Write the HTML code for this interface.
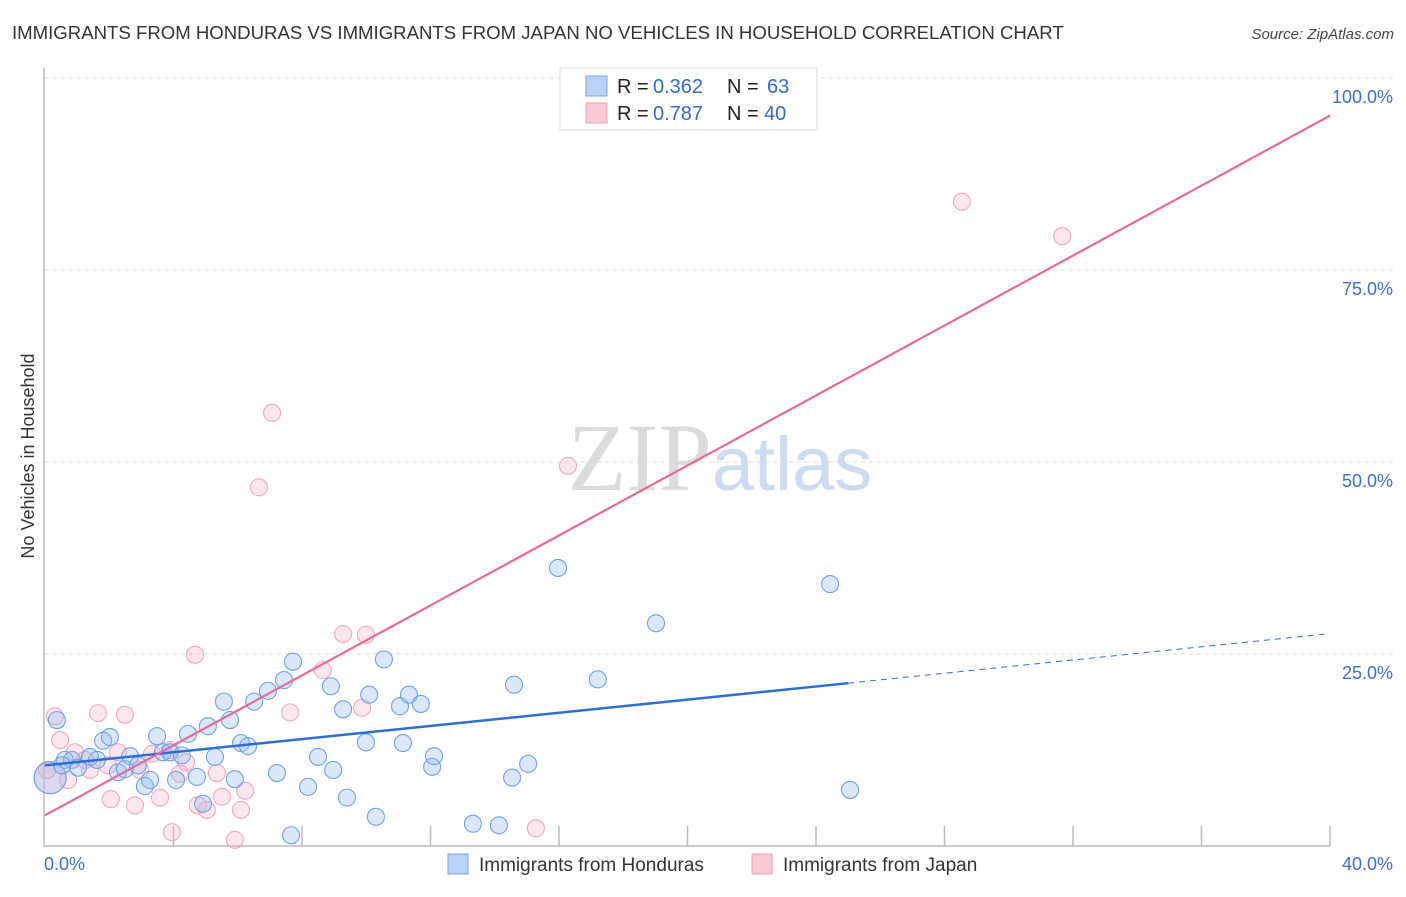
<!DOCTYPE html>
<html><head><meta charset="utf-8"><style>
body{margin:0;background:#fff;font-family:"Liberation Sans",sans-serif}
</style></head><body>
<svg id="chart" width="1406" height="892" xmlns="http://www.w3.org/2000/svg" font-family="Liberation Sans, sans-serif">
<text x="12" y="39" font-size="18.6" fill="#333">IMMIGRANTS FROM HONDURAS VS IMMIGRANTS FROM JAPAN NO VEHICLES IN HOUSEHOLD CORRELATION CHART</text>
<text x="1394" y="39" font-size="15" fill="#444" font-style="italic" text-anchor="end">Source: ZipAtlas.com</text>
<text x="720" y="490" font-size="96" text-anchor="middle"><tspan fill="#dcdcdc" font-family="Liberation Serif, serif">ZIP</tspan><tspan fill="#cddcf2" font-size="76">atlas</tspan></text>
<g id="grid"></g>
<g id="axes"></g>
<g id="marks"></g>
<text transform="translate(34,456) rotate(-90)" font-size="18" fill="#333" text-anchor="middle">No Vehicles in Household</text>
<g>
<rect x="560" y="68" width="257" height="62" fill="#fff" stroke="#ddd"/>
<rect x="586" y="76" width="21" height="20" fill="#b9d3f7" stroke="#7aa6e4"/>
<rect x="586" y="103" width="21" height="20" fill="#fbc8d6" stroke="#eea0b6"/>
<text x="617" y="93" font-size="20" fill="#222">R =</text>
<text x="653" y="93" font-size="20" fill="#3568d4">0.362</text>
<text x="727" y="93" font-size="20" fill="#222">N =</text>
<text x="767" y="93" font-size="20" fill="#3568d4">63</text>
<text x="617" y="120" font-size="20" fill="#222">R =</text>
<text x="653" y="120" font-size="20" fill="#3568d4">0.787</text>
<text x="727" y="120" font-size="20" fill="#222">N =</text>
<text x="764" y="120" font-size="20" fill="#3568d4">40</text>
</g>
<g>
<rect x="448" y="854" width="20" height="20" fill="#b9d3f7" stroke="#7aa6e4"/>
<text x="479" y="871" font-size="19" fill="#333">Immigrants from Honduras</text>
<rect x="752" y="854" width="20" height="20" fill="#fbc8d6" stroke="#eea0b6"/>
<text x="783" y="871" font-size="19" fill="#333">Immigrants from Japan</text>
</g>
</svg>
<script>
const blueX=[0.37,0.62,0.84,1.03,1.40,1.62,1.81,2.02,2.27,2.49,2.65,2.89,3.11,3.27,3.49,3.67,3.89,4.08,4.26,4.45,4.73,4.92,5.07,5.29,5.57,5.76,5.91,6.10,6.32,6.51,6.94,7.22,7.44,7.66,7.72,8.19,8.50,8.90,8.97,9.28,9.40,9.99,10.09,10.30,10.55,11.05,11.14,11.33,11.70,12.05,12.11,13.32,14.13,14.54,14.60,15.04,15.97,17.21,19.02,24.44,25.06,0.16,0.53];
const blueY=[16.4,11.2,11.2,10.2,11.6,11.2,13.7,14.2,9.6,10.0,11.7,10.5,7.8,8.6,14.3,12.2,12.2,8.6,11.8,14.6,9.0,5.5,15.6,11.6,18.8,16.4,8.7,13.4,13.0,18.8,20.2,9.5,21.6,1.4,24.0,7.7,11.6,20.8,9.9,17.8,6.3,13.5,19.7,3.8,24.3,18.2,13.4,19.7,18.5,10.3,11.7,2.9,2.7,8.9,21.0,10.7,36.2,21.7,29.0,34.1,7.3,8.9,10.5];
const pinkX=[0.16,0.31,0.72,0.93,1.40,1.65,2.05,2.27,2.49,2.80,2.96,3.33,3.58,3.95,4.20,4.39,4.67,4.76,5.04,5.35,5.51,5.91,6.10,6.23,6.66,7.07,7.63,8.65,9.28,9.87,9.99,15.28,16.28,28.54,31.66,0.06,1.25,3.89,1.96,0.47];
const pinkY=[8.9,16.9,8.6,12.2,9.9,17.3,6.1,12.2,17.1,5.3,9.9,12.0,6.3,1.8,9.4,10.9,24.9,5.3,4.7,9.5,6.4,0.8,4.7,7.2,46.7,56.4,17.4,22.9,27.6,18.0,27.5,2.3,49.5,83.9,79.4,9.9,11.2,12.5,10.5,13.8];
const yTicks=[25,50,75,100];
const yTickLabels=["25.0%","50.0%","75.0%","100.0%"];
const xTicks=[4,8,12,16,20,24,28,32,36,40];
const blueTrend=[10.5,21.2,27.6]; // at x=0, 25, 40
const pinkTrend=[4.0,95.1]; // at x=0, 40
const NS="http://www.w3.org/2000/svg";
const sx=v=>45+v*32.125, sy=v=>846-v*7.68;
function mk(t,a,p){const e=document.createElementNS(NS,t);for(const k in a)e.setAttribute(k,a[k]);p.appendChild(e);return e;}
const grid=document.getElementById('grid'),axes=document.getElementById('axes'),marks=document.getElementById('marks');
yTicks.forEach((t,i)=>{
 const l=mk('line',{x1:45,x2:1393,y1:sy(t),y2:sy(t),stroke:'#ddd','stroke-dasharray':'4,4'},grid);
 
 
 const tx=mk('text',{x:1393,y:sy(t)+25,'font-size':18,fill:'#3d6fd1','text-anchor':'end'},axes);
 tx.textContent=yTickLabels[i];
 
 
});
const ax=mk('path',{d:'M44,68 V846 H1330',stroke:'#bbb','stroke-width':1.5,fill:'none'},axes);


xTicks.forEach(t=>{
 const l=mk('line',{x1:sx(t),x2:sx(t),y1:826,y2:846,stroke:'#bbb','stroke-width':1.5},axes);
 
 
});
const x0=mk('text',{x:44,y:870,'font-size':18,fill:'#3d6fd1'},axes);x0.textContent='0.0%';


const x1=mk('text',{x:1393,y:870,'font-size':18,fill:'#3d6fd1','text-anchor':'end'},axes);x1.textContent='40.0%';


function dots(X,Y,fill,stroke,name){X.forEach((x,i)=>{
 const big=(x<0.2&&Y[i]>8&&Y[i]<9.5);
 const c=mk('circle',{cx:sx(x),cy:sy(Y[i]),r:big?16:8.5,fill:fill,stroke:stroke,'stroke-width':1.1},marks);
 
 
});}
dots(pinkX,pinkY,'rgba(248,175,198,0.3)','#f0a8bd','japan-point');
dots(blueX,blueY,'rgba(150,190,240,0.35)','#6fa2e2','honduras-point');
const bl=mk('line',{x1:sx(0),y1:sy(blueTrend[0]),x2:sx(25),y2:sy(blueTrend[1]),stroke:'#2a6fd6','stroke-width':2.5},marks);


const bd=mk('line',{x1:sx(25),y1:sy(blueTrend[1]),x2:sx(39.85),y2:sy(blueTrend[2]),stroke:'#2a6fd6','stroke-width':1,'stroke-dasharray':'6,5'},marks);


const pl=mk('line',{x1:sx(0),y1:sy(pinkTrend[0]),x2:sx(40),y2:sy(pinkTrend[1]),stroke:'#e8699a','stroke-width':2.2},marks);


</script>
</body></html>
